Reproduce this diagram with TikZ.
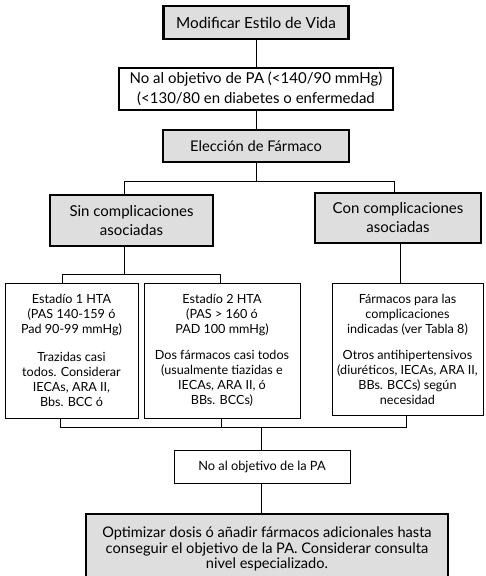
\documentclass[tikz,border=0pt]{standalone}
\usepackage{fontspec}
\setmainfont{Lato}
\usetikzlibrary{positioning}

\begin{document}
\begin{tikzpicture}[every node/.style={on grid, align=center, inner sep=0pt},
						graybox/.style={draw, fill=black!13, line width=2.2pt},
						whitebox/.style={draw, fill=white, line width=2pt},
						smallbox/.style={draw, fill=white, line width=0.9pt, font=\fontsize{12.6}{15}\selectfont},
						finalbox/.style={draw, fill=black!13, line width=2.6pt, font=\fontsize{14.6}{15.8}\selectfont},
						link/.style={line width=0.9pt},
						node distance=60pt]
					\clip (0,0) rectangle (485pt,-576pt);

					\node[graybox, minimum width=185pt, minimum height=33pt, font=\fontsize{15.3}{18}\selectfont] (mod) at (256pt,-22.5pt) {Modificar Estilo de Vida};
					\node[whitebox, below=66.5pt of mod, minimum width=274pt, minimum height=42pt, font=\fontsize{15}{20}\selectfont] (obj) {No al objetivo de PA (<140/90 mmHg)\\(<130/80 en diabetes o enfermedad};
					\node[graybox, below=57pt of obj, minimum width=186pt, minimum height=32pt, font=\fontsize{14.7}{18}\selectfont] (elec) {Elección de Fármaco};

					\node[graybox, below left=74.5pt and 124.5pt of elec, minimum width=163pt, minimum height=51pt, font=\fontsize{15}{19}\selectfont] (sin) {Sin complicaciones\\asociadas};
					\node[graybox, below right=72pt and 142pt of elec, minimum width=166pt, minimum height=50pt, font=\fontsize{15}{19}\selectfont] (con) {Con complicaciones\\asociadas};

					\node[smallbox, below left=130pt and 60pt of sin, minimum width=133pt, minimum height=135pt] (est1) {Estadío 1 HTA\\(PAS 140-159 ó\\Pad 90-99 mmHg)\\[13pt]Trazidas casi\\todos. Considerar\\IECAs, ARA II,\\Bbs. BCC ó};
					\node[smallbox, below right=130pt and 90.5pt of sin, minimum width=156pt, minimum height=135pt] (est2) {Estadío 2 HTA\\(PAS > 160 ó\\PAD 100 mmHg)\\[11pt]Dos fármacos casi todos\\(usualmente tiazidas e\\IECAs, ARA II, ó\\BBs. BCCs)};
					\node[smallbox, below right=131pt and 9.5pt of con, minimum width=151pt, minimum height=132pt] (farm) {Fármacos para las\\complicaciones\\indicadas (ver Tabla 8)\\[11pt]Otros antihipertensivos\\(diuréticos, IECAs, ARA II,\\BBs. BCCs) según\\necesidad};

					\node[smallbox, below right=116pt and 40pt of est2, minimum width=176pt, minimum height=33pt, font=\fontsize{12.8}{14}\selectfont] (noobj) {No al objetivo de la PA};
					\node[finalbox, below right=82.5pt and 5pt of noobj, minimum width=362pt, minimum height=70pt] (opt) {Optimizar dosis ó añadir fármacos adicionales hasta\\conseguir el objetivo de la PA. Considerar consulta\\nivel especializado.};

					\coordinate (j1) at ([yshift=-18pt]elec.south);
					\coordinate (j2) at ([xshift=-7.5pt,yshift=-27pt]sin.south);
					\coordinate (j3) at ([xshift=-1pt,yshift=22pt]noobj.north);

					\draw[link] (mod) -- (obj);
					\draw[link] (obj) -- (elec);
					\draw[link] (elec) -- (j1);
					\draw[link] ([xshift=-7.5pt]sin.north) |- (j1) -| ([xshift=-4pt]con.north);
					\draw[link] ([xshift=-7.5pt]sin.south) -- (j2);
					\draw[link] ([xshift=-9.5pt]est1.north) |- (j2) -| ([xshift=-2pt]est2.north);
					\draw[link] ([xshift=2pt]con.south) -- ([xshift=2pt]con.south |- farm.north);
					\draw[link] ([xshift=-11.5pt]est1.south) |- ([xshift=-1.5pt]farm.south |- j3) -- ([xshift=-1.5pt]farm.south);
					\draw[link] ([xshift=-1pt]est2.south) -- ([xshift=-1pt]est2.south |- j3);
					\draw[link] (j3) -- ([xshift=-1pt]noobj.north);
					\draw[link] ([xshift=-1pt]noobj.south) -- ([xshift=-1pt]noobj.south |- opt.north);
				\end{tikzpicture}
\end{document}
